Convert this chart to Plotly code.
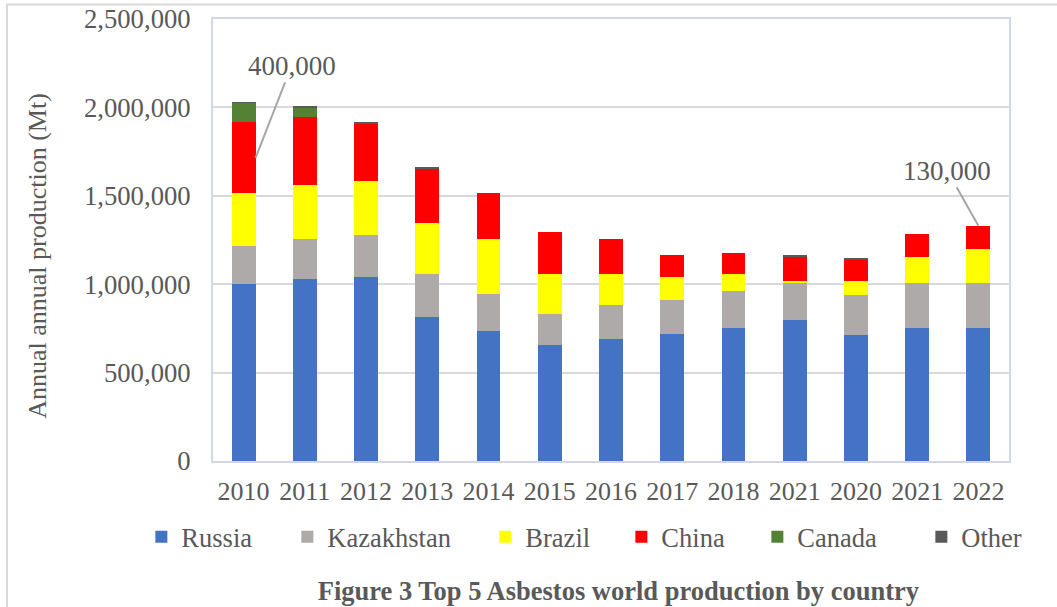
import plotly.graph_objects as go

years = ["2010", "2011", "2012", "2013", "2014", "2015", "2016", "2017", "2018", "2021", "2020", "2021", "2022"]
russia = [1000000, 1030000, 1040000, 815000, 735000, 655000, 690000, 720000, 755000, 795000, 712000, 750000, 750000]
kazakhstan = [215000, 225000, 240000, 240000, 210000, 175000, 195000, 190000, 205000, 210000, 225000, 255000, 255000]
brazil = [300000, 305000, 305000, 290000, 310000, 230000, 175000, 130000, 100000, 15000, 80000, 150000, 195000]
china = [400000, 385000, 325000, 310000, 260000, 235000, 195000, 125000, 115000, 135000, 125000, 130000, 130000]
canada = [110000, 55000, 0, 0, 0, 0, 0, 0, 0, 0, 0, 0, 0]
other = [5000, 4000, 5000, 5000, 0, 0, 0, 0, 0, 8000, 5000, 0, 0]

series_names = ["Russia", "Kazakhstan", "Brazil", "China", "Canada", "Other"]
series_values = [russia, kazakhstan, brazil, china, canada, other]
colors = ["#4472C4", "#AEAAAA", "#FFFF00", "#FF0000", "#548235", "#595959"]
legend_widths = [101, 153, 91, 91, 119, 60]

FONT = "Liberation Serif"
TXT = "#595959"
BARGAP = 0.61
Y_TITLE = "Annual annual production (Mt)"
FIG_TITLE = "<b>Figure 3 Top 5 Asbestos world production by country</b>"

x_pos = list(range(len(years)))

fig = go.Figure()
for name, vals, col, lw in zip(series_names, series_values, colors, legend_widths):
    fig.add_trace(go.Bar(
        x=x_pos, y=vals, name=name,
        marker=dict(color=col, line=dict(width=0)),
        legendwidth=lw,
    ))

# annotation values derived from data
i0 = 0
y_china_mid = russia[i0] + kazakhstan[i0] + brazil[i0] + china[i0] / 2
i1 = len(years) - 1
y_top_last = sum(s[i1] for s in series_values)

fig.add_annotation(x=x_pos[i0] + (1 - BARGAP) / 2, y=y_china_mid, xref="x", yref="y",
                   text=f"{china[i0]:,}", showarrow=True, arrowhead=0, arrowwidth=2,
                   arrowcolor="#A6A6A6", ax=36, ay=-92,
                   font=dict(family=FONT, size=27, color=TXT))
fig.add_annotation(x=x_pos[i1], y=y_top_last, xref="x", yref="y",
                   text=f"{china[i1]:,}", showarrow=True, arrowhead=0, arrowwidth=2,
                   arrowcolor="#A6A6A6", ax=-31, ay=-55,
                   font=dict(family=FONT, size=27, color=TXT))

# y-axis title (positioned like the original, slightly below the plot centre)
fig.add_annotation(x=-0.2198, y=0.4643, xref="paper", yref="paper", text=Y_TITLE,
                   textangle=-90, showarrow=False, xanchor="center", yanchor="middle",
                   font=dict(family=FONT, size=26, color=TXT))

# outer chart border
fig.add_shape(type="rect", xref="paper", yref="paper",
              x0=-0.2588, x1=1.07, y0=-0.4, y1=1.0328,
              line=dict(color="#D9D9D9", width=2), fillcolor="rgba(0,0,0,0)", layer="below")

fig.update_layout(
    width=1057, height=607,
    margin=dict(l=213, r=48, t=19, b=146),
    barmode="stack", bargap=BARGAP,
    paper_bgcolor="white", plot_bgcolor="white",
    font=dict(family=FONT, size=26.5, color=TXT),
    showlegend=True,
    legend=dict(orientation="h", x=-0.09, xanchor="left", y=-0.172, yanchor="middle",
                font=dict(family=FONT, size=26.5, color=TXT), traceorder="normal",
                bgcolor="rgba(0,0,0,0)"),
    title=dict(text=FIG_TITLE,
               x=0.585, xanchor="center", y=0.026, yanchor="middle", yref="container",
               font=dict(family=FONT, size=26.5, color=TXT)),
    xaxis=dict(tickmode="array", tickvals=x_pos, ticktext=years, range=[-0.5, len(years) - 0.5],
               showgrid=False, showline=True, linecolor="#D0D8E8", linewidth=2, mirror=True,
               automargin=False,
               ticks="", ticklabelstandoff=6, tickfont=dict(family=FONT, size=26, color=TXT)),
    yaxis=dict(range=[0, 2500000], dtick=500000, tickformat=",", showgrid=True,
               gridcolor="#D9D9D9", gridwidth=2, zeroline=False,
               showline=True, linecolor="#D0D8E8", linewidth=2, mirror=True,
               automargin=False,
               ticks="", ticklabelstandoff=15, tickfont=dict(family=FONT, size=26.7, color=TXT)),
)

fig.write_html("out.html")
